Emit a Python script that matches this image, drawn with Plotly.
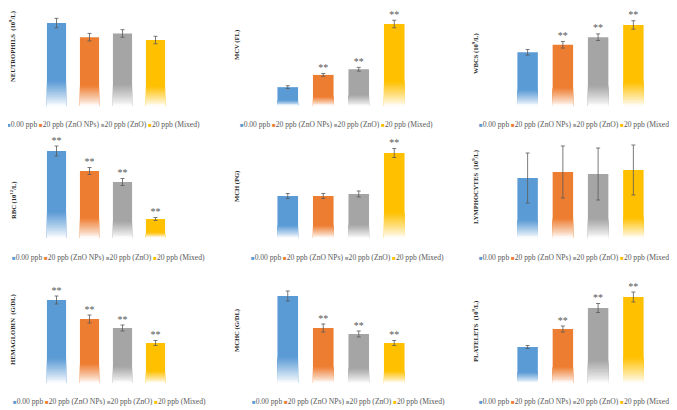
import plotly.graph_objects as go

# groups (legend entries)
groups = ["0.00 ppb", "20 ppb (ZnO NPs)", "20 ppb (ZnO)", "20 ppb (Mixed)"]
bar_colors = ["#5B9BD5", "#ED7D31", "#A5A5A5", "#FFC000"]

# panel titles, left-to-right, top-to-bottom
titles = [
    "NEUTROPHILS&nbsp;&nbsp;(10<sup>9</sup>/L)", "MCV (FL)", "WBCS (10<sup>9</sup>/L)",
    "RBC (10<sup>12</sup>/L)", "MCH (PG)", "LYMPHOCYTES&nbsp;&nbsp;(10<sup>9</sup>/L)",
    "HEMAGLOBIN&nbsp;&nbsp;(G/DL)", "MCHC (G/DL)", "PLATELETS&nbsp;&nbsp;(10<sup>9</sup>/L)",
]

# bar heights (no ticks on the axes, relative units)
neutrophils = [88, 73, 77, 70]
mcv = [20, 33, 39, 87]
wbcs = [57, 65, 73, 86]
rbc = [87, 67, 56, 19]
mch = [42, 42, 44, 85]
lymphocytes = [60, 66, 64, 68]
hemaglobin = [83, 64, 55, 40]
mchc = [87, 55, 49, 40]
platelets = [36, 54, 75, 86]

neutrophils_err = [5, 4, 4, 4]
mcv_err = [1.5, 1.5, 2, 4]
wbcs_err = [3, 3.5, 3.5, 4.5]
rbc_err = [5, 3.5, 3.5, 1.5]
mch_err = [2.5, 2.5, 3, 4.5]
lymphocytes_err = [25, 26, 26, 25]
hemaglobin_err = [4, 4, 3, 2.5]
mchc_err = [5, 4, 3, 2.5]
platelets_err = [1.5, 3, 4.5, 5]

# significance marks
neutrophils_sig = ["", "", "", ""]
mcv_sig = ["", "**", "**", "**"]
wbcs_sig = ["", "**", "**", "**"]
rbc_sig = ["**", "**", "**", "**"]
mch_sig = ["", "", "", "**"]
lymphocytes_sig = ["", "", "", ""]
hemaglobin_sig = ["**", "**", "**", "**"]
mchc_sig = ["", "**", "**", "**"]
platelets_sig = ["", "**", "**", "**"]

values = [neutrophils, mcv, wbcs, rbc, mch, lymphocytes, hemaglobin, mchc, platelets]
errors = [neutrophils_err, mcv_err, wbcs_err, rbc_err, mch_err, lymphocytes_err,
          hemaglobin_err, mchc_err, platelets_err]
sigs = [neutrophils_sig, mcv_sig, wbcs_sig, rbc_sig, mch_sig, lymphocytes_sig,
        hemaglobin_sig, mchc_sig, platelets_sig]

# the page body has an 8px margin, so the figure is a bit smaller than the window
OFF = 8
W, H = 677 - OFF, 410 - OFF
col_x = [(40, 172), (270, 412), (510, 651)]       # plot areas in window px
row_y = [(8, 106), (135, 238), (280, 383)]
row_top = [104, 103, 103]                          # y range top per row
title_x = [13, 237, 475]
title_y = [[47, 45, 54], [201, 187, 187], [330, 331, 332]]
legend_x = [[103, 336, 575], [108, 347, 575], [109, 349, 575]]
legend_y = [124, 258, 401]

FADE = 0.3   # bottom part of each bar that fades to white
NSLICE = 16
SERIF = "Liberation Serif"


def px(x):
    return (x - OFF) / W


def py(y):
    return 1 - (y - OFF) / H


def mix(hex_color, t):
    r, g, b = (int(hex_color[i:i + 2], 16) for i in (1, 3, 5))
    r = round(255 + (r - 255) * t)
    g = round(255 + (g - 255) * t)
    b = round(255 + (b - 255) * t)
    return f"rgb({r},{g},{b})"


fig = go.Figure()
layout = {}
for i in range(9):
    row, col = divmod(i, 3)
    n = "" if i == 0 else str(i + 1)
    xa, ya = "x" + n, "y" + n
    vals, errs = values[i], errors[i]

    # full bar with error bars
    fig.add_trace(go.Bar(
        x=groups, y=vals,
        marker=dict(color=bar_colors, line_width=0),
        error_y=dict(type="data", array=errs, color="#595959", thickness=0.8, width=2),
        xaxis=xa, yaxis=ya, showlegend=False))
    # lighter, shorter bars drawn over the bottom to fade it out to white
    for k in range(NSLICE):
        frac = FADE * (NSLICE - k) / NSLICE
        t = ((NSLICE - k - 0.5) / NSLICE) ** 0.9
        fig.add_trace(go.Bar(
            x=groups, y=[v * frac for v in vals],
            marker=dict(color=[mix(c, t) for c in bar_colors], line_width=0),
            xaxis=xa, yaxis=ya, showlegend=False, hoverinfo="skip"))
    fig.add_trace(go.Scatter(
        x=groups, y=[v + e for v, e in zip(vals, errs)], text=sigs[i],
        mode="text", textposition="top center", cliponaxis=False,
        textfont=dict(family=SERIF, size=10, color="#595959"),
        xaxis=xa, yaxis=ya, showlegend=False))

    x0, x1 = col_x[col]
    y0, y1 = row_y[row]
    layout["xaxis" + n] = dict(domain=[px(x0), px(x1)], showticklabels=False,
                               showgrid=False, zeroline=False, anchor=ya, fixedrange=True)
    layout["yaxis" + n] = dict(domain=[py(y1), py(y0)], range=[0, row_top[row]],
                               showticklabels=False, showgrid=False, zeroline=False,
                               anchor=xa, fixedrange=True)

annotations = []
for i in range(9):
    row, col = divmod(i, 3)
    annotations.append(dict(
        text="<b>" + titles[i] + "</b>", textangle=-90, showarrow=False,
        xref="paper", yref="paper", x=px(title_x[col]), y=py(title_y[row][col]),
        xanchor="center", yanchor="middle",
        font=dict(family=SERIF, size=6.6, color="#262626")))
    items = []
    for g, c in zip(groups, bar_colors):
        items.append(f"<span style='color:{c};font-size:6px'>■</span>{g}")
    annotations.append(dict(
        text="&nbsp;".join(items), showarrow=False,
        xref="paper", yref="paper", x=px(legend_x[row][col]), y=py(legend_y[row]),
        xanchor="center", yanchor="middle",
        font=dict(family=SERIF, size=7.6, color="#595959")))

fig.update_layout(
    width=W, height=H, margin=dict(l=0, r=0, t=0, b=0),
    paper_bgcolor="white", plot_bgcolor="white",
    barmode="overlay", bargap=0.42, annotations=annotations, showlegend=False,
    **layout)

fig.write_html("out.html")
